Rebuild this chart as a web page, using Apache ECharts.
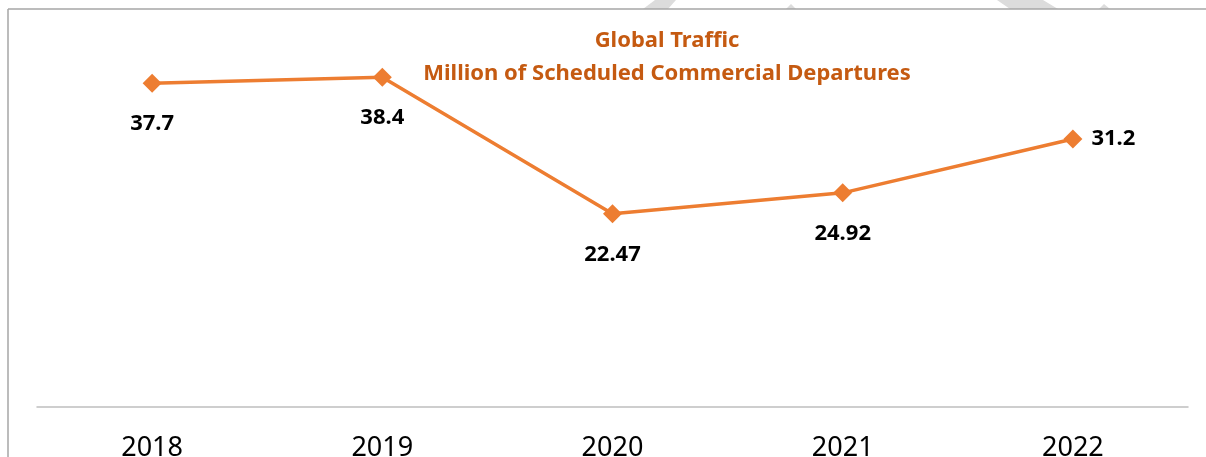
<!DOCTYPE html>
<html>
<head>
<meta charset="utf-8">
<title>Global Traffic</title>
<script src="https://cdn.jsdelivr.net/npm/echarts@6/dist/echarts.min.js"></script>
<style>
  html, body { margin: 0; padding: 0; background: #fff; }
  #chart { width: 1206px; height: 457px; }
</style>
</head>
<body>
<div id="chart"></div>
<script>
// 数据
const years = ["2018", "2019", "2020", "2021", "2022"];
const departures = [37.7, 38.4, 22.47, 24.92, 31.2];
// 标签位置（最后一个放右边）
const labelSide = ["bottom", "bottom", "bottom", "bottom", "right"];

const ORANGE = "#ED7D31";
const TITLE_COLOR = "#C55A11";
const WM = "#dcdcdc"; // 顶部水印碎片

const chart = echarts.init(document.getElementById("chart"));

const seriesData = departures.map((v, i) => ({
  value: v,
  label: {
    position: labelSide[i],
    distance: labelSide[i] === "right" ? 9 : 20
  }
}));

chart.setOption({
  animation: false,
  title: {
    text: "Global Traffic\nMillion of Scheduled Commercial Departures",
    left: 662,
    top: 19,
    textAlign: "center",
    textStyle: {
      color: TITLE_COLOR,
      fontFamily: "Noto Sans",
      fontWeight: "bold",
      fontSize: 22,
      lineHeight: 33
    }
  },
  grid: { left: 37, right: 18, top: 20.7, bottom: 50.5, containLabel: false, outerBoundsMode: "none" },
  xAxis: {
    type: "category",
    data: years,
    boundaryGap: true,
    axisLine: { lineStyle: { color: "#bfbfbf", width: 1.5 } },
    axisTick: { show: false },
    axisLabel: {
      color: "#000",
      fontFamily: "Noto Sans",
      fontSize: 27,
      margin: 28
    }
  },
  yAxis: {
    type: "value",
    min: 0,
    max: 45,
    show: false,
    splitLine: { show: false }
  },
  graphic: [
    { type: "polygon", shape: { points: [[643, 9], [655, 0], [676, 0], [668, 9]] }, style: { fill: WM } },
    { type: "polygon", shape: { points: [[786, 9], [791, 4], [796, 9]] }, style: { fill: WM } },
    { type: "polygon", shape: { points: [[997, 0], [1043, 0], [1058, 9], [1010, 9]] }, style: { fill: WM } },
    { type: "polygon", shape: { points: [[1099, 9], [1104, 4], [1110, 9]] }, style: { fill: WM } },
    { type: "line", shape: { x1: 8, y1: 9, x2: 1206, y2: 9 }, style: { stroke: "#a6a6a6", lineWidth: 1.5 } },
    { type: "line", shape: { x1: 8, y1: 9, x2: 8, y2: 457 }, style: { stroke: "#a6a6a6", lineWidth: 1.5 } }
  ],
  series: [{
    type: "line",
    data: seriesData,
    symbol: "diamond",
    symbolSize: 19,
    lineStyle: { color: ORANGE, width: 3.5 },
    itemStyle: { color: ORANGE },
    label: {
      show: true,
      color: "#000",
      fontFamily: "Noto Sans",
      fontWeight: "bold",
      fontSize: 22
    }
  }]
});
</script>
</body>
</html>
